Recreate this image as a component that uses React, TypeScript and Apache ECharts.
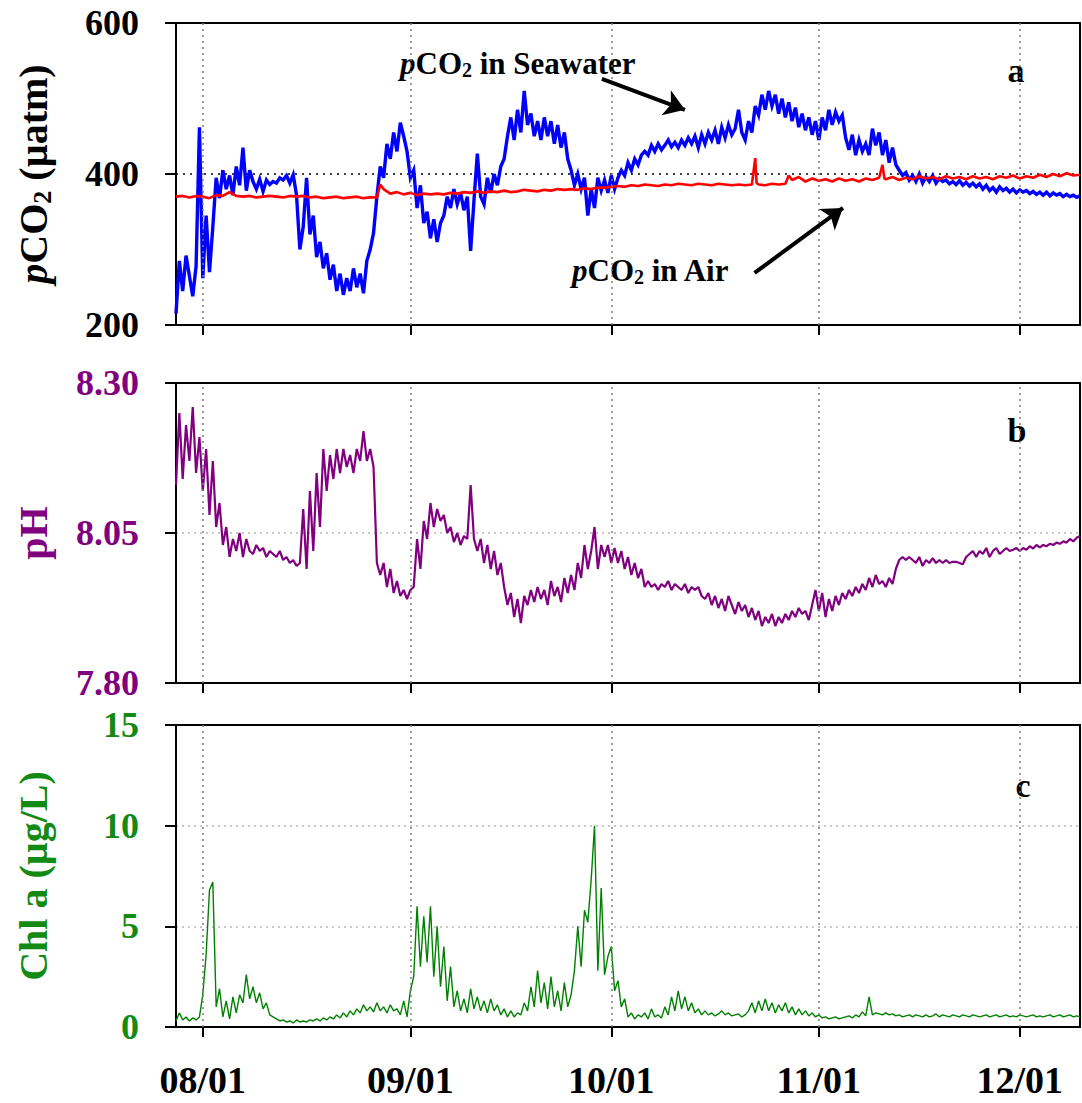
import React, { useEffect, useRef } from 'react';
import * as echarts from 'echarts';

const FONT = "'Liberation Serif', 'Times New Roman', serif";

// x axis: days relative to 08/01
const X_MIN = -4;
const X_MAX = 131;
const monthTickDays = [0, 31, 61, 92, 122];
const monthLabels = ['08/01', '09/01', '10/01', '11/01', '12/01'];

// panel a: pCO2 in seawater (µatm), every 0.5 day from day -4
const seaStartDay = -4;
const seaStepDays = 0.5;
const pco2Sea = [
  215, 285, 245, 292, 265, 238, 278, 462, 262, 345,
  270, 330, 395, 368, 405, 380, 398, 372, 410, 385,
  435, 378, 405, 390, 380, 393, 377, 392, 386, 390,
  388, 395, 392, 398, 388, 399, 372, 300, 330, 395,
  320, 345, 290, 310, 275, 295, 260, 280, 245, 268,
  240, 262, 245, 275, 250, 268, 242, 285, 300, 322,
  370, 410, 395, 440, 420, 455, 430, 468, 450, 430,
  395, 405, 355, 385, 335, 350, 315, 340, 310, 335,
  345, 370, 355, 380, 360, 375, 352, 370, 298, 365,
  427, 370, 360, 395, 375, 400, 385, 410, 420, 450,
  475, 445, 485, 455, 510, 465, 480, 450, 470, 445,
  475, 450, 470, 440, 465, 435, 455, 420, 405, 385,
  400, 380, 395, 345, 380, 355, 395, 378, 392, 375,
  398, 380, 395, 405, 398, 415, 405, 420, 412, 425,
  430, 425, 438, 430, 440, 432, 438, 445, 436, 442,
  435, 445, 438, 448, 440, 450, 435, 452, 440, 455,
  445, 458, 440, 462, 448, 465, 452, 460, 485, 455,
  445, 470, 455, 490, 478, 505, 485, 510, 490, 505,
  480, 500, 475, 495, 470, 488, 462, 480, 458, 475,
  452, 470, 445, 475, 458, 485, 465, 482, 470, 478,
  448, 432, 452, 425, 445, 430, 440, 425, 460, 438,
  455, 425, 445, 415, 435, 412, 405, 398, 402, 392,
  398, 390, 400, 388, 396, 390, 398, 388, 394, 390,
  392, 387, 390, 386, 391, 385, 389, 384, 388, 383,
  387, 380, 385, 378, 382, 376, 383, 378, 381, 376,
  380, 375, 379, 376, 378, 374, 377, 373, 376, 372,
  376, 371, 375, 372, 374, 370, 373, 370, 372, 369,
  371,
];

// panel a: pCO2 in air (µatm), [day, value]
const pco2Air: [number, number][] = [
  [-4, 370], [-3, 371], [-2, 369], [-1, 371], [0, 370], [1, 368], [2, 372], [3, 371], [4, 376], [5, 371],
  [6, 370], [7, 371], [8, 369], [9, 370], [10, 371], [11, 370], [12, 369], [13, 371], [14, 370], [15, 371],
  [16, 369], [17, 370], [18, 368], [19, 369], [20, 370], [21, 368], [22, 369], [23, 370], [24, 368], [25, 369],
  [26, 369], [26.5, 386], [27, 380], [28, 374], [29, 376], [30, 373], [31, 375], [32, 372], [33, 374], [34, 373],
  [35, 374], [36, 373], [37, 375], [38, 374], [39, 376], [40, 375], [41, 377], [42, 375], [43, 377], [44, 376],
  [45, 378], [46, 376], [47, 377], [48, 379], [49, 378], [50, 377], [51, 379], [52, 378], [53, 380], [54, 379],
  [55, 380], [56, 379], [57, 381], [58, 380], [59, 382], [60, 382], [61, 383], [62, 384], [63, 383], [64, 385],
  [65, 384], [66, 386], [67, 385], [68, 384], [69, 386], [70, 385], [71, 387], [72, 386], [73, 385], [74, 387],
  [75, 386], [76, 385], [77, 387], [78, 386], [79, 385], [80, 386], [81, 385], [82, 386], [82.5, 421], [82.7, 388],
  [83, 386], [84, 385], [85, 387], [86, 386], [87, 387], [87.5, 398], [88, 392], [89, 396], [90, 390], [91, 394],
  [92, 391], [93, 393], [94, 390], [95, 394], [96, 391], [97, 393], [98, 390], [99, 394], [100, 392], [101, 395],
  [101.5, 412], [101.8, 394], [102, 393], [103, 396], [104, 392], [105, 395], [106, 393], [107, 397], [108, 394], [109, 396],
  [110, 393], [111, 397], [112, 394], [113, 396], [114, 393], [115, 397], [116, 394], [117, 396], [118, 393], [119, 397],
  [120, 395], [121, 398], [122, 394], [123, 397], [124, 395], [125, 399], [126, 396], [127, 400], [128, 397], [129, 401],
  [130, 398], [131, 399],
];

// panel b: pH, every 0.5 day from day -4
const phStartDay = -4;
const phStepDays = 0.5;
const phValues = [
  8.13, 8.25, 8.14, 8.23, 8.17, 8.26, 8.15, 8.21, 8.12, 8.19,
  8.08, 8.17, 8.06, 8.10, 8.03, 8.06, 8.01, 8.04, 8.02, 8.05,
  8.01, 8.04, 8.02, 8.015, 8.03, 8.02, 8.025, 8.01, 8.02, 8.015,
  8.01, 8.02, 8.005, 8.01, 8.0, 8.005, 7.995, 8.0, 8.09, 7.99,
  8.12, 8.02, 8.15, 8.06, 8.19, 8.12, 8.18, 8.14, 8.19, 8.15,
  8.19, 8.16, 8.18, 8.15, 8.19, 8.17, 8.22, 8.17, 8.19, 8.16,
  8.0, 7.98, 8.0, 7.96, 7.99, 7.95, 7.97, 7.945, 7.955, 7.94,
  7.955, 7.96, 8.04, 7.99, 8.07, 8.04, 8.10, 8.06, 8.09, 8.07,
  8.08, 8.05, 8.06, 8.035, 8.05, 8.03, 8.045, 8.04, 8.13, 8.04,
  8.02, 8.04, 8.0, 8.03, 7.99, 8.02, 7.98, 8.0, 7.96, 7.93,
  7.95, 7.91, 7.94, 7.90, 7.945, 7.93, 7.955, 7.935, 7.96, 7.94,
  7.955, 7.93, 7.97, 7.945, 7.96, 7.935, 7.975, 7.95, 7.98, 7.955,
  8.0, 7.975, 8.03, 7.99, 8.02, 8.06, 7.99, 8.03, 8.01, 8.03,
  8.0, 8.025, 8.0, 8.02, 7.99, 8.01, 7.98, 8.0, 7.975, 7.99,
  7.96, 7.97, 7.96, 7.965, 7.955, 7.965, 7.96, 7.97, 7.955, 7.965,
  7.96, 7.955, 7.965, 7.95, 7.96, 7.955, 7.96, 7.945, 7.94, 7.95,
  7.93, 7.945, 7.925, 7.94, 7.92, 7.945, 7.93, 7.915, 7.935, 7.92,
  7.93, 7.91, 7.925, 7.905, 7.92, 7.895, 7.91, 7.9, 7.915, 7.895,
  7.91, 7.9, 7.915, 7.905, 7.92, 7.91, 7.925, 7.915, 7.92, 7.905,
  7.93, 7.955, 7.92, 7.95, 7.91, 7.94, 7.92, 7.945, 7.93, 7.95,
  7.94, 7.955, 7.945, 7.96, 7.95, 7.965, 7.955, 7.975, 7.96, 7.98,
  7.965, 7.97, 7.96, 7.975, 7.965, 7.99, 8.005, 8.01, 8.005, 8.01,
  8.005, 8.0, 8.01, 7.995, 8.005, 8.0, 8.008, 8.0, 8.005, 8.0,
  8.005, 8.0, 8.002, 8.002, 8.0, 7.998, 8.01, 8.015, 8.02, 8.01,
  8.02, 8.015, 8.025, 8.01, 8.02, 8.025, 8.015, 8.02, 8.025, 8.02,
  8.022, 8.025, 8.02, 8.025, 8.022, 8.028, 8.024, 8.03, 8.026, 8.03,
  8.028, 8.032, 8.03, 8.034, 8.032, 8.036, 8.034, 8.04, 8.036, 8.042,
  8.045,
];

// panel c: Chl a (µg/L), every 0.5 day from day -4
const chlStartDay = -4;
const chlStepDays = 0.5;
const chlValues = [
  0.3, 0.7, 0.35, 0.5, 0.3, 0.45, 0.35, 0.5, 1.6, 3.6,
  6.8, 7.2, 1.0, 1.9, 0.5, 1.3, 0.4, 1.5, 0.7, 1.6,
  1.2, 2.6, 1.4, 2.0, 1.2, 1.7, 0.9, 1.2, 0.6, 0.5,
  0.4, 0.3, 0.35, 0.25, 0.3, 0.2, 0.35, 0.25, 0.3, 0.25,
  0.35, 0.3, 0.4, 0.3, 0.45, 0.35, 0.5, 0.4, 0.6, 0.45,
  0.7, 0.5, 0.8, 0.6, 0.9, 0.7, 1.1, 0.8, 1.0, 0.75,
  1.2, 0.8, 1.0, 0.7, 1.1, 0.8, 0.9, 0.6, 1.3, 0.5,
  1.8, 2.5, 6.0, 3.0, 5.5, 3.2, 6.0, 2.5, 5.0, 2.0,
  4.0, 1.3, 3.0, 1.0, 1.8, 0.8, 1.4, 0.7, 1.9, 0.9,
  1.5, 0.8, 1.3, 0.7, 1.4, 0.8, 1.1, 0.6, 0.9, 0.5,
  0.8, 0.5, 0.7, 0.6, 1.2, 0.8, 2.0, 1.0, 2.8, 1.2,
  2.2, 0.9, 2.5, 1.0, 1.8, 0.8, 2.2, 1.0, 1.6, 2.8,
  5.0, 3.0, 5.8, 5.2, 7.3, 10.0, 2.8, 6.9, 2.6, 3.5,
  4.0, 1.8, 2.3, 1.0, 1.4, 0.5, 0.7, 0.4, 0.6, 0.5,
  0.7, 0.4, 0.9, 0.5, 0.6, 0.45, 1.0, 0.6, 1.5, 0.8,
  1.8, 0.9, 1.5, 0.8, 1.2, 0.7, 0.9, 0.6, 0.8, 0.6,
  0.7, 0.55, 0.65, 0.8, 0.6, 0.7, 0.55, 0.6, 0.65, 0.5,
  0.6, 0.8, 1.2, 0.7, 1.3, 0.8, 1.4, 0.8, 1.2, 0.7,
  1.1, 0.8, 1.2, 0.7, 1.0, 0.6, 0.9, 0.6, 0.8, 0.55,
  0.7, 0.5, 0.6, 0.45, 0.5, 0.4, 0.45, 0.5, 0.4, 0.45,
  0.5, 0.55, 0.45, 0.6, 0.5, 0.75, 0.55, 1.5, 0.6, 0.7,
  0.65, 0.6, 0.7, 0.6, 0.65, 0.55, 0.6, 0.5, 0.55, 0.6,
  0.5, 0.6, 0.55, 0.5, 0.6, 0.5, 0.55, 0.65, 0.5, 0.6,
  0.55, 0.5, 0.6, 0.55, 0.5, 0.6, 0.55, 0.5, 0.6, 0.55,
  0.5, 0.55, 0.6, 0.5, 0.55, 0.6, 0.5, 0.55, 0.6, 0.5,
  0.55, 0.5, 0.6, 0.55, 0.5, 0.55, 0.6, 0.5, 0.55, 0.5,
  0.55, 0.6, 0.5, 0.55, 0.6, 0.5, 0.55, 0.6, 0.5, 0.55,
  0.5,
];

// annotation arrows (data coordinates of panel a: [day, µatm])
const seaArrow: [number, number][] = [[59.6, 526], [72.0, 485]];
const airArrow: [number, number][] = [[82.4, 269], [95.6, 355]];

const toPairs = (start: number, step: number, vals: number[]) =>
  vals.map((v, i) => [start + i * step, v]);

const nameRich = (color: string) => ({
  i: { fontFamily: FONT, fontSize: 40, fontWeight: 'bold', fontStyle: 'italic', color, lineHeight: 44 },
  n: { fontFamily: FONT, fontSize: 40, fontWeight: 'bold', color, lineHeight: 44 },
  s: { fontFamily: FONT, fontSize: 26, fontWeight: 'bold', color, lineHeight: 18, verticalAlign: 'bottom' },
});

const annoRich = {
  i: { fontFamily: FONT, fontSize: 31, fontWeight: 'bold', fontStyle: 'italic', color: '#111', lineHeight: 34 },
  n: { fontFamily: FONT, fontSize: 31, fontWeight: 'bold', color: '#111', lineHeight: 34 },
  s: { fontFamily: FONT, fontSize: 20, fontWeight: 'bold', color: '#111', lineHeight: 12, verticalAlign: 'bottom' },
};

const BORDER = { color: '#000', width: 2 };

const xAxisFor = (gridIndex: number, showLabels: boolean) => ({
  type: 'value',
  gridIndex,
  position: 'bottom',
  min: X_MIN,
  max: X_MAX,
  axisLine: { show: true, onZero: false, lineStyle: BORDER },
  axisTick: {
    show: true,
    customValues: monthTickDays,
    length: 10,
    inside: false,
    lineStyle: BORDER,
  },
  axisLabel: {
    show: showLabels,
    customValues: monthTickDays,
    formatter: (v: number) => {
      const k = monthTickDays.indexOf(v);
      return k >= 0 ? monthLabels[k] : '';
    },
    fontFamily: FONT,
    fontSize: 38,
    fontWeight: 'bold',
    color: '#000',
    margin: 34,
  },
  splitLine: { show: false },
});

// frame-only axes (top and right edges of each panel)
const topFrame = (gridIndex: number) => ({
  type: 'value',
  gridIndex,
  position: 'top',
  min: X_MIN,
  max: X_MAX,
  axisLine: { show: true, onZero: false, lineStyle: BORDER },
  axisTick: { show: false },
  axisLabel: { show: false },
  splitLine: { show: false },
});
const rightFrame = (gridIndex: number) => ({
  type: 'value',
  gridIndex,
  position: 'right',
  min: 0,
  max: 1,
  axisLine: { show: true, onZero: false, lineStyle: BORDER },
  axisTick: { show: false },
  axisLabel: { show: false },
  splitLine: { show: false },
});

const yAxisBase = (gridIndex: number, color: string) => ({
  type: 'value',
  gridIndex,
  position: 'left',
  nameLocation: 'middle',
  nameRotate: 90,
  nameGap: 121,
  axisLine: { show: true, onZero: false, lineStyle: BORDER },
  axisTick: { show: true, length: 11, inside: false, lineStyle: BORDER },
  axisLabel: { fontFamily: FONT, fontSize: 36, fontWeight: 'bold', color, margin: 37 },
});

const gridLineSeries = (idx: number) => ({
  type: 'line',
  xAxisIndex: idx,
  yAxisIndex: idx,
  data: [],
  z: 1,
  silent: true,
  markLine: {
    silent: true,
    symbol: 'none',
    label: { show: false },
    lineStyle: { color: '#7f7f7f', type: [2, 4], width: 1.5 },
    emphasis: { disabled: true },
    data: monthTickDays.map((d) => ({ xAxis: d })),
  },
});

const gridBase = { show: false, left: 176, width: 904 };

const option: any = {
  animation: false,
  grid: [
    { ...gridBase, top: 23, height: 302 },
    { ...gridBase, top: 383, height: 300 },
    { ...gridBase, top: 725, height: 302 },
  ],
  xAxis: [
    xAxisFor(0, false), xAxisFor(1, false), xAxisFor(2, true),
    topFrame(0), topFrame(1), topFrame(2),
  ],
  yAxis: [
    {
      ...yAxisBase(0, '#000'),
      min: 200,
      max: 600,
      interval: 200,
      name: '{i|p}{n|CO}{s|2}{n| (µatm)}',
      nameTextStyle: { rich: nameRich('#000') },
      splitLine: { show: true, lineStyle: { color: '#000', type: [2, 5], width: 1.5 } },
    },
    {
      ...yAxisBase(1, '#800080'),
      min: 7.8,
      max: 8.3,
      interval: 0.25,
      axisLabel: { ...yAxisBase(1, '#800080').axisLabel, formatter: (v: number) => v.toFixed(2) },
      name: '{n|pH}',
      nameTextStyle: { rich: nameRich('#800080') },
      splitLine: { show: true, lineStyle: { color: '#b5b5b5', type: [2, 4], width: 1.5 } },
    },
    {
      ...yAxisBase(2, '#138a13'),
      min: 0,
      max: 15,
      interval: 5,
      name: '{n|Chl a (µg/L)}',
      nameTextStyle: { rich: nameRich('#138a13') },
      splitLine: { show: true, lineStyle: { color: '#b5b5b5', type: [2, 4], width: 1.5 } },
    },
    rightFrame(0), rightFrame(1), rightFrame(2),
  ],
  series: [
    gridLineSeries(0),
    gridLineSeries(1),
    gridLineSeries(2),
    {
      name: 'pCO2 in Seawater',
      type: 'line',
      xAxisIndex: 0,
      yAxisIndex: 0,
      data: toPairs(seaStartDay, seaStepDays, pco2Sea),
      showSymbol: false,
      symbol: 'none',
      lineStyle: { color: '#0000ff', width: 3.4, join: 'miter' },
      z: 2,
      silent: true,
    },
    {
      name: 'pCO2 in Air',
      type: 'line',
      xAxisIndex: 0,
      yAxisIndex: 0,
      data: pco2Air,
      showSymbol: false,
      symbol: 'none',
      lineStyle: { color: '#ff0000', width: 2.6 },
      z: 3,
      silent: true,
    },
    {
      type: 'line',
      xAxisIndex: 0,
      yAxisIndex: 0,
      data: [],
      z: 5,
      silent: true,
      markLine: {
        silent: true,
        symbol: ['none', 'arrow'],
        symbolSize: 20,
        label: { show: false },
        emphasis: { disabled: true },
        lineStyle: { color: '#000', width: 4, type: 'solid' },
        data: [
          [{ coord: seaArrow[0] }, { coord: seaArrow[1] }],
          [{ coord: airArrow[0] }, { coord: airArrow[1] }],
        ],
      },
    },
    {
      name: 'pH',
      type: 'line',
      xAxisIndex: 1,
      yAxisIndex: 1,
      data: toPairs(phStartDay, phStepDays, phValues),
      showSymbol: false,
      symbol: 'none',
      lineStyle: { color: '#800080', width: 2.2 },
      z: 2,
      silent: true,
    },
    {
      name: 'Chl a',
      type: 'line',
      xAxisIndex: 2,
      yAxisIndex: 2,
      data: toPairs(chlStartDay, chlStepDays, chlValues),
      showSymbol: false,
      symbol: 'none',
      lineStyle: { color: '#008000', width: 1.4 },
      z: 2,
      silent: true,
    },
  ],
  graphic: [
    {
      type: 'text',
      x: 400,
      y: 63,
      silent: true,
      style: { text: '{i|p}{n|CO}{s|2}{n| in Seawater}', rich: annoRich, verticalAlign: 'middle', textVerticalAlign: 'middle' },
    },
    {
      type: 'text',
      x: 572,
      y: 270,
      silent: true,
      style: { text: '{i|p}{n|CO}{s|2}{n| in Air}', rich: annoRich, verticalAlign: 'middle', textVerticalAlign: 'middle' },
    },
    {
      type: 'text',
      x: 1016,
      y: 70,
      silent: true,
      style: { text: 'a', fontFamily: FONT, fontSize: 34, fontWeight: 'bold', fill: '#000', align: 'center', verticalAlign: 'middle', textAlign: 'center', textVerticalAlign: 'middle' },
    },
    {
      type: 'text',
      x: 1017,
      y: 430,
      silent: true,
      style: { text: 'b', fontFamily: FONT, fontSize: 34, fontWeight: 'bold', fill: '#000', align: 'center', verticalAlign: 'middle', textAlign: 'center', textVerticalAlign: 'middle' },
    },
    {
      type: 'text',
      x: 1023,
      y: 785,
      silent: true,
      style: { text: 'c', fontFamily: FONT, fontSize: 34, fontWeight: 'bold', fill: '#000', align: 'center', verticalAlign: 'middle', textAlign: 'center', textVerticalAlign: 'middle' },
    },
  ],
};

export default function App() {
  const ref = useRef<HTMLDivElement>(null);
  useEffect(() => {
    if (!ref.current) return;
    const chart = echarts.init(ref.current, null, { renderer: 'svg' });
    chart.setOption(option);
    return () => chart.dispose();
  }, []);
  return (
    <div
      ref={ref}
      style={{ position: 'absolute', left: 0, top: 0, width: 1082, height: 1103, background: '#fff' }}
    />
  );
}
